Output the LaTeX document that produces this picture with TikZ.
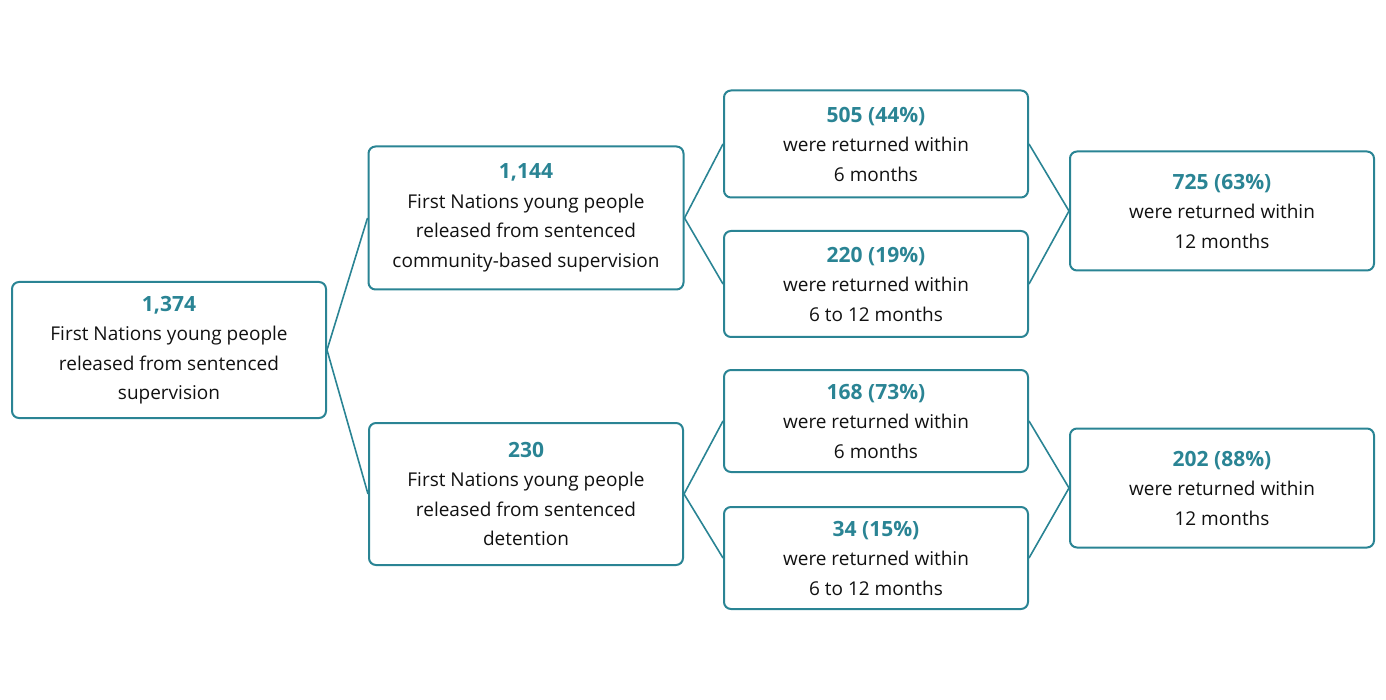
\documentclass[tikz,border=0pt]{standalone}
\usepackage{fontspec}
\setmainfont{Open Sans}
\definecolor{teal1}{HTML}{2A8494}
\definecolor{txt}{HTML}{111111}
\begin{document}
\begin{tikzpicture}[x=1pt,y=-1pt,
  bx/.style={draw=teal1,line width=2pt,rounded corners=7pt,align=center,inner sep=0pt,
    font=\fontsize{19}{29.5}\selectfont,text=txt},
  num/.style={text=teal1,font=\fontsize{21}{29.5}\selectfont\bfseries},
  ln/.style={draw=teal1,line width=1.6pt}]
\useasboundingbox (0,0) rectangle (1386,700);
\node[bx,minimum width=314,minimum height=136] (a) at (169,350) {{\usefont{TU}{OpenSans(0)}{b}{n}\color{teal1}\fontsize{21}{29.5}\selectfont 1,374}\\First Nations young people\\released from sentenced\\supervision};
\node[bx,minimum width=315,minimum height=143] (b) at (526,218) {{\color{teal1}\bfseries\fontsize{21}{29.5}\selectfont 1,144}\\First Nations young people\\released from sentenced\\community-based supervision};
\node[bx,minimum width=314,minimum height=142] (c) at (526,494) {{\color{teal1}\bfseries\fontsize{21}{29.5}\selectfont 230}\\First Nations young people\\released from sentenced\\detention};
\node[bx,minimum width=304,minimum height=107] (d1) at (876,144) {{\color{teal1}\bfseries\fontsize{21}{29.5}\selectfont 505 (44\%)}\\were returned within\\6 months};
\node[bx,minimum width=304,minimum height=106] (d2) at (876,284) {{\color{teal1}\bfseries\fontsize{21}{29.5}\selectfont 220 (19\%)}\\were returned within\\6 to 12 months};
\node[bx,minimum width=304,minimum height=102] (d3) at (876,421) {{\color{teal1}\bfseries\fontsize{21}{29.5}\selectfont 168 (73\%)}\\were returned within\\6 months};
\node[bx,minimum width=304,minimum height=102] (d4) at (876,558) {{\color{teal1}\bfseries\fontsize{21}{29.5}\selectfont 34 (15\%)}\\were returned within\\6 to 12 months};
\node[bx,minimum width=304,minimum height=119] (e1) at (1222,211) {{\color{teal1}\bfseries\fontsize{21}{29.5}\selectfont 725 (63\%)}\\were returned within\\12 months};
\node[bx,minimum width=304,minimum height=119] (e2) at (1222,488) {{\color{teal1}\bfseries\fontsize{21}{29.5}\selectfont 202 (88\%)}\\were returned within\\12 months};
\draw[ln] (b.west) -- (a.east) -- (c.west);
\draw[ln] (d1.west) -- (b.east) -- (d2.west);
\draw[ln] (d3.west) -- (c.east) -- (d4.west);
\draw[ln] (d1.east) -- (e1.west) -- (d2.east);
\draw[ln] (d3.east) -- (e2.west) -- (d4.east);
\end{tikzpicture}
\end{document}
